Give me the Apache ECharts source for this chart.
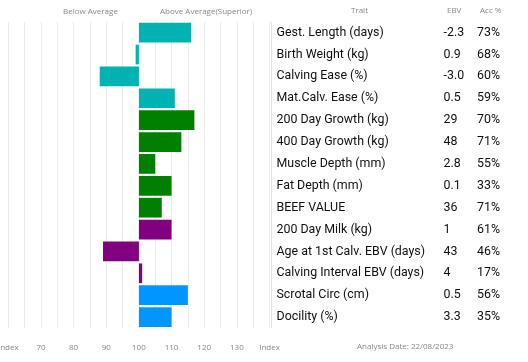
<!DOCTYPE html>
<html><head><meta charset="utf-8">
<script src="https://cdn.jsdelivr.net/npm/echarts@6/dist/echarts.min.js"></script>
<style>html,body{margin:0;padding:0;background:#fff}#c{width:528px;height:362px}</style>
</head><body><div id="c"></div>
<script>
const traits = ["Gest. Length (days)","Birth Weight (kg)","Calving Ease (%)","Mat.Calv. Ease (%)","200 Day Growth (kg)","400 Day Growth (kg)","Muscle Depth (mm)","Fat Depth (mm)","BEEF VALUE","200 Day Milk (kg)","Age at 1st Calv. EBV (days)","Calving Interval EBV (days)","Scrotal Circ (cm)","Docility (%)"];
const ebv = ["-2.3","0.9","-3.0","0.5","29","48","2.8","0.1","36","1","43","4","0.5","3.3"];
const acc = ["73%","68%","60%","59%","70%","71%","55%","33%","71%","61%","46%","17%","56%","35%"];
const indexValues = [116,99,88,111,117,113,105,110,107,110,89,101,115,110];
const barColors = ["#00B3B3","#00B3B3","#00B3B3","#00B3B3","#008000","#008000","#008000","#008000","#008000","#800080","#800080","#800080","#0096FF","#0096FF"];
const xTicks = [60,70,80,90,100,110,120,130,140];
const baseIndex = 100;

const chart = echarts.init(document.getElementById('c'), null, {renderer:'canvas'});
const font = "Roboto, sans-serif";
const fs = 12.4;
const smallFont = "8px 'Open Sans', sans-serif";
const yCommon = {type:'category', inverse:true, position:'right', axisLine:{show:false}, axisTick:{show:false}, splitLine:{show:false}};
chart.setOption({
  animation:false,
  grid:{left:8.3, right:258.5, top:21.7, bottom:34, containLabel:false, outerBoundsMode:'none'},
  xAxis:{type:'value', min:xTicks[0]-baseIndex, max:xTicks[xTicks.length-1]-baseIndex, interval:5,
    axisLine:{show:false}, axisTick:{show:false},
    splitLine:{show:true, lineStyle:{color:'#ececec', width:1}},
    axisLabel:{margin:16, color:'#888', fontSize:8, fontFamily:"'Open Sans', sans-serif", showMinLabel:true, showMaxLabel:true, hideOverlap:false,
      formatter:function(v){const i=v+baseIndex; if(xTicks.indexOf(i)<0) return ''; if(i===xTicks[0]||i===xTicks[xTicks.length-1]) return 'Index'; return String(i);}}},
  yAxis:[
    Object.assign({}, yCommon, {data:traits, axisLabel:{margin:7, align:'left', color:'#111', fontSize:fs, fontFamily:font}}),
    Object.assign({}, yCommon, {data:ebv, offset:167, axisLabel:{margin:7, align:'left', color:'#111', fontSize:fs, fontFamily:font}}),
    Object.assign({}, yCommon, {data:acc, offset:200.5, axisLabel:{margin:7, align:'left', color:'#111', fontSize:fs, fontFamily:font}})
  ],
  series:[{type:'bar', yAxisIndex:0, barCategoryGap:'10%',
    data:indexValues.map((v,i)=>({value:v-baseIndex, itemStyle:{color:barColors[i]}}))}],
  graphic:[
    {type:'text', left:63, top:8, style:{text:'Below Average', fill:'#888', font:smallFont}},
    {type:'text', left:160, top:8, style:{text:'Above Average(Superior)', fill:'#888', font:smallFont}},
    {type:'text', left:351, top:7, style:{text:'Trait', fill:'#888', font:smallFont}},
    {type:'text', left:447, top:7, style:{text:'EBV', fill:'#888', font:smallFont}},
    {type:'text', left:480, top:7, style:{text:'Acc %', fill:'#888', font:smallFont}},
    {type:'text', left:357, top:343, style:{text:'Analysis Date: 22/08/2023', fill:'#888', font:smallFont}},
    {type:'line', shape:{x1:271.5, y1:21.7, x2:271.5, y2:328}, style:{stroke:'#e2e2e2', lineWidth:1}}
  ]
});
</script></body></html>
